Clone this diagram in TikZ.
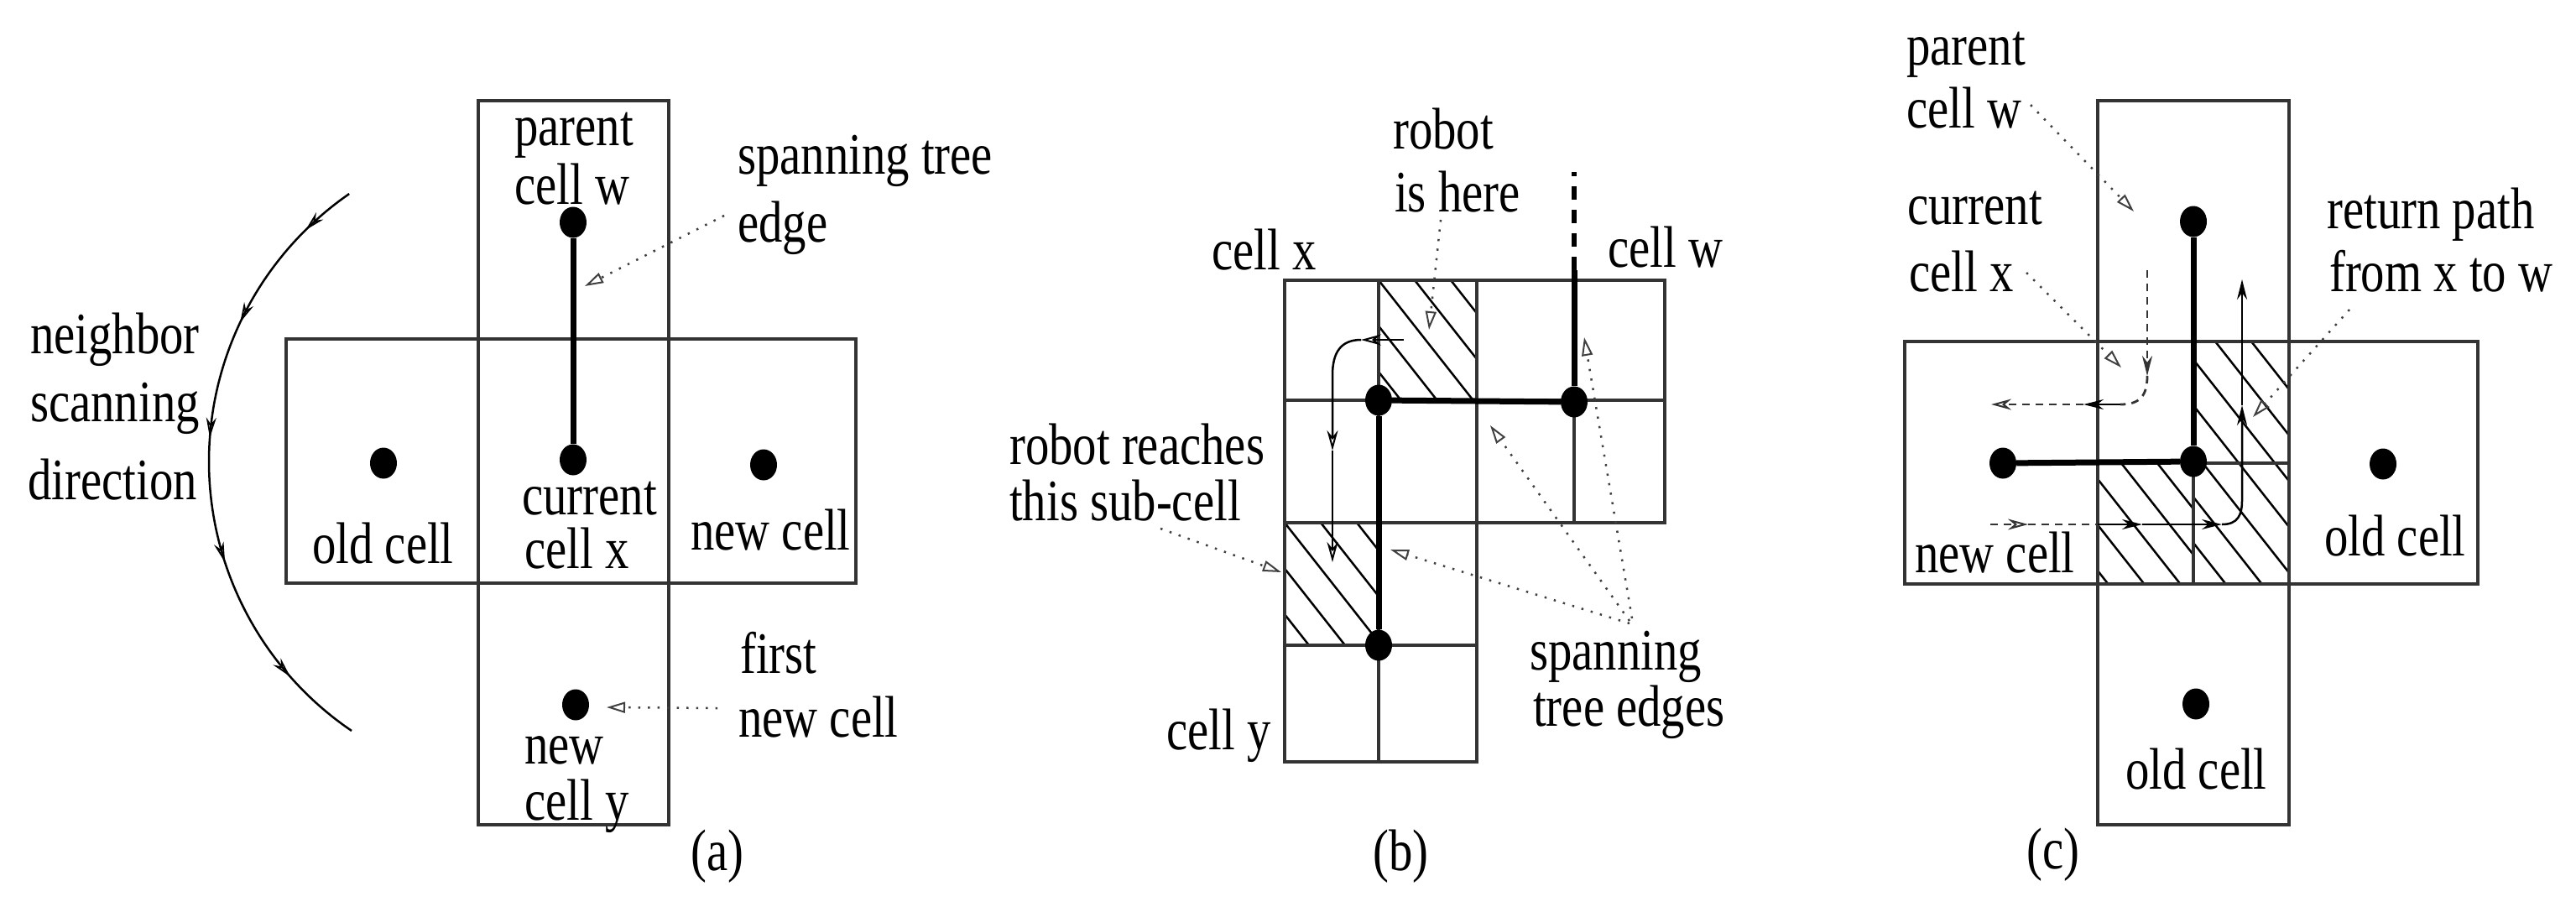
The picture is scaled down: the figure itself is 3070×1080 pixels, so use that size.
\documentclass[tikz,border=0pt]{standalone}
\usepackage{fontspec}
\setmainfont{Liberation Serif}[FakeStretch=0.81]
\usetikzlibrary{arrows.meta,shapes.geometric,decorations.markings}
\newcommand\hatchbox[5]{%
  \begin{scope}
    \clip (#1,#2) rectangle (#3,#4);
    \foreach \k in {-8,...,6}{
      \draw[hatchln] ({#1+#5+\k*43},#2) -- ++(300,381);
    }
  \end{scope}}
\begin{document}
\begin{tikzpicture}[x=1pt,y=-1pt,
  lbl/.style={anchor=base west, inner sep=0pt, text height=46pt, text depth=0pt,
    font=\fontsize{70}{80}\selectfont},
  cellline/.style={line width=3.5pt, draw=black!80},
  tedge/.style={line width=7pt, draw=black},
  blob/.style={ellipse, fill=black, draw=none, inner sep=0pt, minimum width=32pt, minimum height=37pt},
  hatchln/.style={line width=2.5pt, draw=black},
  ptr/.style={line width=2.5pt, draw=black!75, dash pattern=on 2.5pt off 9pt,
    -{Triangle[open,length=22pt,width=13pt,line width=2pt]}},
  mv/.style={line width=2.5pt, draw=black, -{Stealth[length=24pt,width=12pt]}},
  mvo/.style={line width=2.5pt, draw=black, -{Stealth[open,length=24pt,width=13pt,line width=2pt]}},
  dsh/.style={line width=2.8pt, draw=black!80, dash pattern=on 9pt off 7pt},
]
\fill[white] (0,0) rectangle (3070,1080);
\useasboundingbox (0,0) rectangle (3070,1080);

% ================= (a) =================
\draw[cellline] (570,120) rectangle (797,983);
\draw[cellline] (341,404) rectangle (1020,695);
\node[blob] (aw) at (683,265) {};
\node[blob] (ax) at (683,548) {};
\node[blob] (aold) at (457,552) {};
\node[blob] (anew) at (910,554) {};
\node[blob] (ay) at (686,840) {};
\draw[tedge] (aw) -- (ax);

\node[lbl] (apw1) at (613,173) {parent};
\node[lbl] (apw2) at (613,243) {cell w};
\node[lbl] (acx1) at (622,613) {current};
\node[lbl] (acx2) at (625,677) {cell x};
\node[lbl] (aoldt) at (372,671) {old cell};
\node[lbl] (anewt) at (823,655) {new cell};
\node[lbl] (any1) at (625,910) {new};
\node[lbl] (any2) at (625,977) {cell y};
\node[lbl] (afn1) at (882,802) {first};
\node[lbl] (afn2) at (880,878) {new cell};
\node[lbl] (ast1) at (879,207) {spanning tree};
\node[lbl] (ast2) at (879,288) {edge};
\node[lbl] (anb1) at (36,421) {neighbor};
\node[lbl] (anb2) at (36,502) {scanning};
\node[lbl] (anb3) at (33,595) {direction};
\node[lbl] (alab) at (823,1037) {(a)};

\coordinate (ap1s) at (863,257); \coordinate (ap1e) at (697,341);
\coordinate (ap2s) at (855,844); \coordinate (ap2e) at (723,843);
\draw[ptr] (ap1s) -- (ap1e);
\draw[ptr] (ap2s) -- (ap2e);

\draw[line width=2.5pt, postaction={decorate}, decoration={markings,
   mark=at position 0.09 with {\arrow{Stealth[open,length=24pt,width=12pt,line width=1.8pt]}},
   mark=at position 0.27 with {\arrow{Stealth[open,length=24pt,width=12pt,line width=1.8pt]}},
   mark=at position 0.46 with {\arrow{Stealth[open,length=24pt,width=12pt,line width=1.8pt]}},
   mark=at position 0.66 with {\arrow{Stealth[open,length=24pt,width=12pt,line width=1.8pt]}},
   mark=at position 0.87 with {\arrow{Stealth[open,length=24pt,width=12pt,line width=1.8pt]}}}]
  plot[smooth, domain=0:1, samples=60] ({637+388*cos(235.3-111.2*\x)},{550+388*sin(235.3-111.2*\x)});

% ================= (b) =================
\hatchbox{1643}{334}{1760}{477}{0}
\hatchbox{1531}{623}{1643}{769}{0}
\draw[cellline] (1531,908) -- (1531,334) -- (1984,334) -- (1984,623) -- (1760,623) -- (1760,908) -- cycle;
\draw[cellline] (1531,477) -- (1984,477);
\draw[cellline] (1531,623) -- (1760,623);
\draw[cellline] (1531,769) -- (1760,769);
\draw[cellline] (1643,334) -- (1643,908);
\draw[cellline] (1760,334) -- (1760,623);
\draw[cellline] (1876,477) -- (1876,623);
\node[blob] (bx) at (1643,477) {};
\node[blob] (bw) at (1876,479) {};
\node[blob] (by) at (1643,769) {};
\coordinate (bwup) at (1876,322);
\coordinate (bwtop) at (1876,205);
\draw[tedge] (bx) -- (bw);
\draw[tedge] (bx) -- (by);
\draw[tedge] (bw) -- (bwup);
\draw[line width=6pt, dash pattern=on 16pt off 12pt] (bwup) -- (bwtop);

\coordinate (bp0) at (1673,405);
\coordinate (bp1) at (1622,405);
\coordinate (bp2) at (1588,537);
\coordinate (bp3) at (1588,670);
\draw[mvo] (bp0) -- (bp1);
\draw[mvo] (bp1) .. controls (1598,405) and (1588,420) .. (1588,447) -- (bp2);
\draw[mvo] (bp2) -- (bp3);

\node[lbl] (brob1) at (1660,177) {robot};
\node[lbl] (brob2) at (1662,252) {is here};
\node[lbl] (bcx) at (1444,321) {cell x};
\node[lbl] (bcw) at (1916,318) {cell w};
\node[lbl] (brr1) at (1203,553) {robot reaches};
\node[lbl] (brr2) at (1203,620) {this sub-cell};
\node[lbl] (bcy) at (1390,893) {cell y};
\node[lbl] (bst1) at (1823,798) {spanning};
\node[lbl] (bst2) at (1827,865) {tree edges};
\node[lbl] (blab) at (1636,1037) {(b)};

\coordinate (bq1s) at (1717,262); \coordinate (bq1e) at (1703,393);
\coordinate (bq2s) at (1383,630); \coordinate (bq2e) at (1527,682);
\coordinate (bq3s) at (1942,743); \coordinate (bq3e) at (1657,655);
\coordinate (bq4s) at (1942,740); \coordinate (bq4e) at (1776,507);
\coordinate (bq5s) at (1945,737); \coordinate (bq5e) at (1888,402);
\draw[ptr] (bq1s) -- (bq1e);
\draw[ptr] (bq2s) -- (bq2e);
\draw[ptr] (bq3s) -- (bq3e);
\draw[ptr] (bq4s) -- (bq4e);
\draw[ptr] (bq5s) -- (bq5e);

% ================= (c) =================
\hatchbox{2614}{407}{2728}{696}{26}
\hatchbox{2500}{552}{2614}{696}{28}
\draw[cellline] (2500,120) rectangle (2728,983);
\draw[cellline] (2270,407) rectangle (2953,696);
\draw[cellline] (2614,552) -- (2614,696);
\draw[cellline] (2614,552) -- (2728,552);
\node[blob] (cw) at (2614,264) {};
\node[blob] (cx) at (2614,550) {};
\node[blob] (cnew) at (2387,552) {};
\node[blob] (cold1) at (2840,553) {};
\node[blob] (cold2) at (2617,839) {};
\draw[tedge] (cw) -- (cx);
\draw[tedge] (cx) -- (cnew);

% previous path (dashed) from w into x and on to the new cell
\coordinate (cd0) at (2559,322);
\coordinate (cd1) at (2559,448);
\coordinate (cd2) at (2527,482);
\coordinate (cd3) at (2483,482);
\coordinate (cd4) at (2373,482);
\draw[dsh, -{Stealth[length=24pt,width=12pt]}] (cd0) -- (cd1);
\draw[dsh] (cd1) .. controls (2559,472) and (2550,482) .. (cd2);
\draw[mv] (cd2) -- (cd3);
\draw[dsh, -{Stealth[open,length=24pt,width=13pt,line width=2pt]}] (cd3) -- (cd4);

% return path
\coordinate (cr0) at (2372,625);
\coordinate (cr1) at (2417,625);
\coordinate (cr2) at (2500,625);
\coordinate (cr3) at (2553,625);
\coordinate (cr4) at (2648,625);
\coordinate (cr5) at (2672,483);
\coordinate (cr6) at (2672,333);
\draw[dsh, -{Stealth[open,length=24pt,width=13pt,line width=2pt]}] (cr0) -- (cr1);
\draw[dsh] (cr1) -- (cr2);
\draw[mv] (cr2) -- (cr3);
\draw[mv] (cr3) -- (cr4);
\draw[mv] (cr4) .. controls (2667,625) and (2672,614) .. (2672,596) -- (cr5);
\draw[mv] (cr5) -- (cr6);

\node[lbl] (cpw1) at (2272,77) {parent};
\node[lbl] (cpw2) at (2272,152) {cell w};
\node[lbl] (ccx1) at (2273,267) {current};
\node[lbl] (ccx2) at (2275,347) {cell x};
\node[lbl] (crp1) at (2773,272) {return path};
\node[lbl] (crp2) at (2776,347) {from x to w};
\node[lbl] (cnewt) at (2282,682) {new cell};
\node[lbl] (cold1t) at (2770,662) {old cell};
\node[lbl] (cold2t) at (2533,940) {old cell};
\node[lbl] (clab) at (2415,1035) {(c)};

\coordinate (cq1s) at (2420,125); \coordinate (cq1e) at (2543,252);
\coordinate (cq2s) at (2415,325); \coordinate (cq2e) at (2528,438);
\coordinate (cq3s) at (2800,369); \coordinate (cq3e) at (2685,497);
\draw[ptr] (cq1s) -- (cq1e);
\draw[ptr] (cq2s) -- (cq2e);
\draw[ptr] (cq3s) -- (cq3e);
\end{tikzpicture}
\end{document}
